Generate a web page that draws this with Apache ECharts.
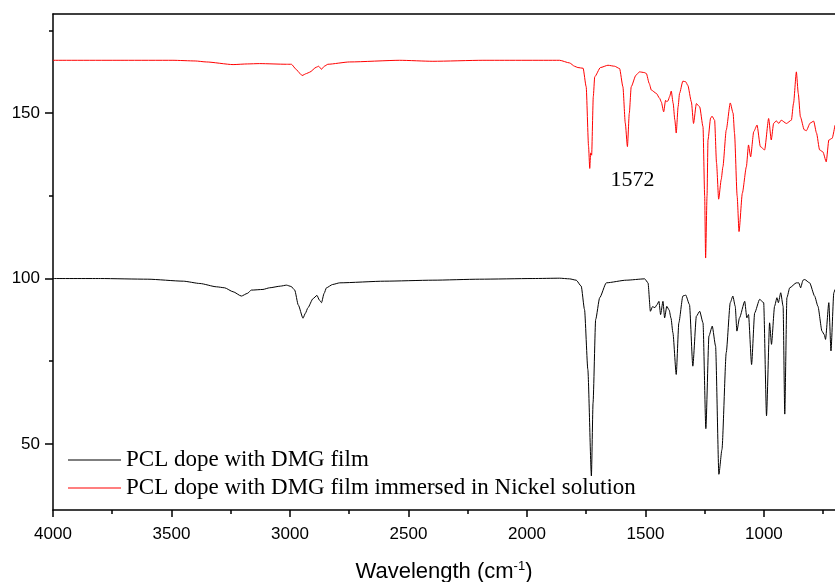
<!DOCTYPE html>
<html>
<head>
<meta charset="utf-8">
<script src="https://cdn.jsdelivr.net/npm/echarts@6/dist/echarts.min.js"></script>
<style>html,body{margin:0;padding:0;background:#fff}#c{width:835px;height:582px}</style>
</head>
<body>
<div id="c"></div>
<script>
// ---- data ----
const seriesNames = ['PCL dope with DMG film', 'PCL dope with DMG film immersed in Nickel solution'];
const xMajorTicks = [1000, 1500, 2000, 2500, 3000, 3500, 4000];
const xMinorTicks = [750, 1250, 1750, 2250, 2750, 3250, 3750];
const yMajorTicks = [50, 100, 150];
const yMinorTicks = [75, 125, 175];
const annotationText = '1572';
const annotationAt = [1555, 129.6];

const blackWn = [4000,3800,3600,3450,3380,3310,3276,3240,3205,3180,3163,3114,3086,3040,3015,2995,2980,2965,2945,2935,2924,2903,2886,2876,2867,2856,2846,2820,2790,2600,2397,2200,1975,1862,1820,1792,1771,1757,1743,1728,1721,1710,1693,1665,1581,1503,1489,1479,1470,1460,1451,1443,1436,1426,1419,1410,1400,1392,1384,1370,1359,1342,1330,1314,1300,1285,1271,1257,1245,1232,1218,1204,1190,1177,1159,1142,1131,1121,1114,1103,1081,1072,1065,1052,1039,1018,1001,989,976,968,955,945,939,929,919,912,903,891,863,853,845,835,828,807,786,772,755,745,740,726,717,705,700];
const blackT = [100,100,99.8,99.2,98.5,97.5,97.2,96.0,94.7,95.5,96.5,96.7,97.2,97.7,98.0,97.6,96.5,92,88.0,89.5,91.2,93.9,94.9,93.5,92.7,95.5,97.2,98.2,98.7,99.2,99.5,99.8,100,100.1,99.9,99.5,97.7,90.6,72.5,40.3,62.4,87.6,94.2,98.7,99.5,99.9,98.7,90.1,91.5,91.2,92.1,93.1,89.1,93.1,88.1,91.6,90.5,88,83.6,71.0,86.6,94.7,95,92.1,73.5,88.6,90.1,86.6,54.6,82.6,85.6,79.6,40.8,48.3,77.6,92.7,94.7,91.6,84.1,88.1,93.1,88.1,89.1,74.0,89.6,93.7,92.7,58.5,86.6,80.1,91.6,94.2,92.7,95.7,91.6,59.0,94.2,97.2,98.7,98.7,97.2,99.5,99.7,98.7,94.7,91.6,84.1,83,81.6,92.7,78.1,95.7,96.7];

const redWn = [4000,3700,3494,3400,3353,3240,3180,3128,3015,2994,2973,2959,2949,2930,2917,2889,2879,2867,2855,2840,2748,2537,2397,2186,1862,1820,1799,1785,1763,1750,1740,1735,1731,1727,1720,1714,1690,1658,1630,1609,1595,1585,1576,1568,1560,1540,1525,1505,1496,1484,1475,1454,1440,1433,1423,1415,1410,1405,1398,1391,1383,1376,1370,1362,1356,1342,1330,1321,1306,1297,1285,1271,1257,1250,1246,1240,1236,1225,1219,1208,1200,1191,1180,1173,1159,1142,1130,1124,1113,1105,1091,1074,1065,1056,1043,1029,1015,997,980,969,959,948,937,927,905,884,875,863,855,846,830,821,805,790,778,765,751,737,726,712,700];
const redT = [166,166,166,165.8,165.5,164.7,164.9,165,164.8,164.8,163.2,162.1,161.4,162,162.4,163.9,164.2,163.3,164.2,164.8,165.5,166,165.7,166,166,165.2,164.2,163.8,163.6,158,140,133.3,138,137.3,155,161,163.8,164.5,164.2,163.5,158,147,139.9,150,158,161.5,162.5,162.3,162,159,157,156,154.5,153.4,150.4,153.9,153.5,153.7,155,156.7,153,148,144,152,156,159.7,159.5,158.4,153.4,146.9,152.9,151.9,145.9,125,106.2,125,141.9,148.5,149.1,147.9,135,124,130,133.8,144.9,153.1,150,143.9,125,114.2,125.8,133.8,140.4,136.8,144.4,146.4,139.9,138.9,148.4,141.9,146.9,147.7,146.9,147.9,146.9,147.9,153,162.5,156,148.9,145,144.7,147,147.6,144,138.9,138.3,135.3,141.9,142.4,146.4];

// ---- chart ----
const pairs = (xs, ys) => xs.map((x, i) => [x, ys[i]]);
const chart = echarts.init(document.getElementById('c'), null, {renderer: 'canvas'});
const plain = v => String(v);
const axisFont = {fontFamily: 'Liberation Sans, Arial, sans-serif', fontSize: 17, color: '#000', formatter: plain};
const xBase = {type: 'value', inverse: true, min: 700, max: 4000, gridIndex: 0, splitLine: {show: false}};
const yBase = {type: 'value', min: 30, max: 180, splitLine: {show: false}};
chart.setOption({
  animation: false,
  backgroundColor: '#fff',
  grid: {left: 53, right: 0, top: 14, bottom: 72, containLabel: false, outerBoundsMode: 'none'},
  xAxis: [
    Object.assign({}, xBase, {
      position: 'bottom',
      axisLine: {show: true, onZero: false, lineStyle: {color: '#000', width: 1.5}},
      axisTick: {show: true, length: 7, lineStyle: {color: '#000', width: 1.5}, customValues: xMajorTicks},
      axisLabel: Object.assign({show: true, margin: 16, customValues: xMajorTicks}, axisFont),
      name: 'Wavelength (cm{sup|-1})',
      nameLocation: 'middle',
      nameGap: 50,
      nameTextStyle: {fontFamily: 'Liberation Sans, Arial, sans-serif', fontSize: 22, color: '#000',
        rich: {sup: {fontFamily: 'Liberation Sans, Arial, sans-serif', fontSize: 13, color: '#000', verticalAlign: 'bottom', padding: [0, 0, 10, 0]}}}
    }),
    Object.assign({}, xBase, {
      position: 'bottom',
      axisLine: {show: false, onZero: false},
      axisTick: {show: true, length: 4, lineStyle: {color: '#000', width: 1.5}, customValues: xMinorTicks},
      axisLabel: {show: false}
    }),
    Object.assign({}, xBase, {
      position: 'top',
      axisLine: {show: true, onZero: false, lineStyle: {color: '#000', width: 1.5}},
      axisTick: {show: false},
      axisLabel: {show: false}
    })
  ],
  yAxis: [
    Object.assign({}, yBase, {
      position: 'left',
      axisLine: {show: true, onZero: false, lineStyle: {color: '#000', width: 1.5}},
      axisTick: {show: true, length: 8, lineStyle: {color: '#000', width: 1.5}, customValues: yMajorTicks},
      axisLabel: Object.assign({show: true, margin: 13, customValues: yMajorTicks}, axisFont)
    }),
    Object.assign({}, yBase, {
      position: 'left',
      axisLine: {show: false, onZero: false},
      axisTick: {show: true, length: 4, lineStyle: {color: '#000', width: 1.5}, customValues: yMinorTicks},
      axisLabel: {show: false}
    })
  ],
  legend: {
    orient: 'vertical',
    left: 68,
    top: 448,
    padding: 0,
    itemWidth: 53,
    itemHeight: 10,
    itemGap: 4,
    icon: 'path://M0,5 L53,5 L53,6 L0,6 Z',
    textStyle: {fontFamily: 'Liberation Serif, Times New Roman, serif', fontSize: 23, color: '#000', lineHeight: 24},
    data: seriesNames
  },
  series: [
    {
      name: seriesNames[0], type: 'line', xAxisIndex: 0, yAxisIndex: 0,
      data: pairs(blackWn, blackT), showSymbol: false, symbol: 'none',
      lineStyle: {color: '#000', width: 1}, itemStyle: {color: '#000'}, smooth: 0.2, smoothMonotone: 'x'
    },
    {
      name: seriesNames[1], type: 'line', xAxisIndex: 0, yAxisIndex: 0,
      data: pairs(redWn, redT), showSymbol: false, symbol: 'none',
      lineStyle: {color: '#ff0000', width: 1}, itemStyle: {color: '#ff0000'}, smooth: 0.2, smoothMonotone: 'x',
      markPoint: {
        symbol: 'circle', symbolSize: 0, silent: true,
        label: {show: true, position: 'inside', formatter: annotationText,
          fontFamily: 'Liberation Serif, Times New Roman, serif', fontSize: 22, color: '#000'},
        data: [{coord: annotationAt}]
      }
    }
  ]
});
</script>
</body>
</html>
